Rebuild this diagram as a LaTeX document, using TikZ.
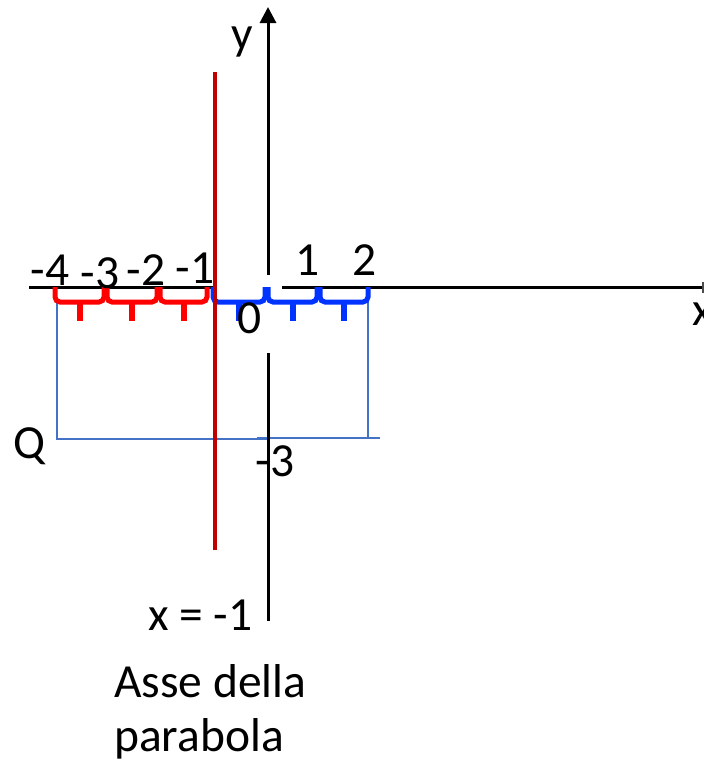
\documentclass[tikz,border=0pt]{standalone}
\usepackage{fontspec}
\setmainfont{Carlito}
\usetikzlibrary{arrows.meta}
\definecolor{axisred}{RGB}{192,0,0}
\definecolor{bracered}{RGB}{255,0,0}
\definecolor{braceblue}{RGB}{0,51,255}
\definecolor{thinblue}{RGB}{68,114,196}
\begin{document}
\begin{tikzpicture}[x=1pt,y=-1pt,
  lab/.style={inner sep=0pt,font=\fontsize{47.5}{57}\selectfont},
  axisline/.style={line width=3pt,black},
  bracepath/.style={line width=5pt,rounded corners=5pt,line cap=butt},
  guide/.style={line width=1.5pt,thinblue}]
\useasboundingbox (0,0) rectangle (704,761);
\clip (0,0) rectangle (704,761);
% coordinates
\coordinate (ytop) at (268,7);
\coordinate (yup) at (268,275);
\coordinate (ylo1) at (268,353);
\coordinate (ylo2) at (268,621);
\coordinate (xl1) at (29,287);
\coordinate (xl2) at (213,287);
\coordinate (xr1) at (282,287);
\coordinate (xr2) at (706,287);
\coordinate (tk1) at (703,282);
\coordinate (tk2) at (703,293);
\coordinate (ra1) at (215,72);
\coordinate (ra2) at (215,550);
% thin blue guides
\coordinate (g1) at (57,300);
\coordinate (g2) at (57,439);
\coordinate (g3) at (268,439);
\coordinate (g4) at (257,438);
\coordinate (g5) at (380,438);
\coordinate (g6) at (368,300);
\coordinate (g7) at (368,438);
\draw[guide] (g1) -- (g2) -- (g3);
\draw[guide] (g4) -- (g5);
\draw[guide] (g6) -- (g7);
% axes
\draw[axisline,-{Triangle[length=16pt,width=16pt]}] (yup) -- (ytop);
\draw[axisline] (ylo1) -- (ylo2);
\draw[axisline] (xl1) -- (xl2);
\draw[axisline] (xr1) -- (xr2);
\draw[line width=1.5pt,black!70] (tk1) -- (tk2);
% braces
\foreach \a/\b/\c in {55/104/bracered,107/157/bracered,160/207/bracered,213/265/braceblue,268/317/braceblue,320/368/braceblue}{
  \pgfmathsetmacro{\m}{(\a+\b)/2}
  \draw[bracepath,\c] (\a,287) -- (\a,302) -- (\b,302) -- (\b,287);
  \draw[line width=6pt,\c] (\m,302) -- (\m,321);
}
% red axis of the parabola
\draw[line width=4pt,axisred] (ra1) -- (ra2);
% labels
\node[lab,anchor=base] (ly) at (242,49) {y};
\node[lab,anchor=base west] (lx) at (692,325) {x};
\node[lab,anchor=base] (m4) at (50,285) {-4};
\node[lab,anchor=base] (m3) at (100,288) {-3};
\node[lab,anchor=base] (m2) at (146,285) {-2};
\node[lab,anchor=base] (m1) at (195,283) {-1};
\node[lab,anchor=base] (p1) at (308,275) {1};
\node[lab,anchor=base] (p2) at (365,275) {2};
\node[lab,anchor=base] (z0) at (250,333) {0};
\node[lab,anchor=base] (m3b) at (275,476) {-3};
\node[lab,anchor=base] (q) at (29,458) {Q};
\node[lab,anchor=base west] (eq) at (148,630) {x = -1};
\node[lab,anchor=base west] (t1) at (114,697) {Asse della};
\node[lab,anchor=base west] (t2) at (114,751) {parabola};
\end{tikzpicture}
\end{document}
